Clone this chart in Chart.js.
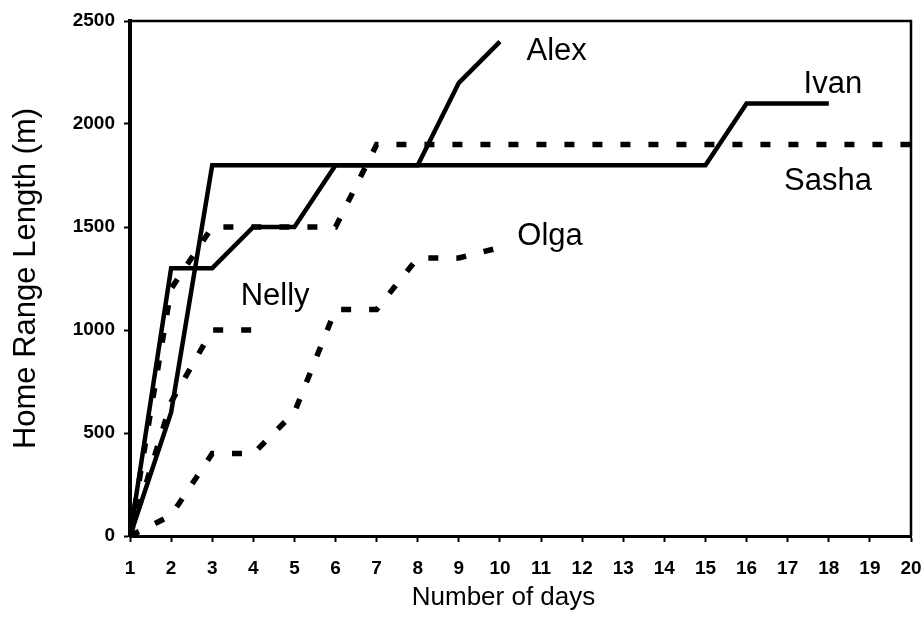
<!DOCTYPE html>
<html>
<head>
<meta charset="utf-8">
<script src="https://cdn.jsdelivr.net/npm/chart.js@4.4.1/dist/chart.umd.min.js"></script>
<style>
  html, body { margin: 0; padding: 0; background: #fff; }
  #wrap { width: 924px; height: 620px; }
</style>
</head>
<body>
<div id="wrap"><canvas id="chart" width="924" height="620"></canvas></div>
<script>
// days on the x axis
const days = [1, 2, 3, 4, 5, 6, 7, 8, 9, 10, 11, 12, 13, 14, 15, 16, 17, 18, 19, 20];
const yTicks = [0, 500, 1000, 1500, 2000, 2500];

// home range length (m) per day, null = no data
const alex  = [0, 1300, 1300, 1500, 1500, 1800, 1800, 1800, 2200, 2400, null, null, null, null, null, null, null, null, null, null];
const ivan  = [0, 600, 1800, 1800, 1800, 1800, 1800, 1800, 1800, 1800, 1800, 1800, 1800, 1800, 1800, 2100, 2100, 2100, null, null];
const sasha = [0, 1200, 1500, 1500, 1500, 1500, 1900, 1900, 1900, 1900, 1900, 1900, 1900, 1900, 1900, 1900, 1900, 1900, 1900, 1900];
const nelly = [0, 650, 1000, 1000, null, null, null, null, null, null, null, null, null, null, null, null, null, null, null, null];
const olga  = [0, 100, 400, 400, 600, 1100, 1100, 1350, 1350, 1400, null, null, null, null, null, null, null, null, null, null];

// name labels, anchored in data units
const labelNames = ['Alex', 'Ivan', 'Sasha', 'Olga', 'Nelly'];
const labelDay   = [11.38, 18.1, 17.98, 11.22, 4.53];
const labelValue = [2311, 2150, 1680, 1413, 1121];

const FONT = '"Liberation Sans", Arial, sans-serif';

function toPoints(vals) {
    const pts = [];
    vals.forEach((v, i) => {
        if (v !== null) pts.push({ x: days[i], y: v });
    });
    return pts;
}

function series(name, vals, dashed) {
    return {
        label: name,
        data: toPoints(vals),
        borderColor: '#000',
        borderWidth: dashed ? 5.5 : 4.5,
        borderDash: dashed ? [10, 18] : [],
        borderCapStyle: 'butt',
        borderJoinStyle: 'miter',
        pointRadius: 0,
        tension: 0,
        fill: false
    };
}

// box around the plot, x title and the series names
const frame = {
    id: 'frame',
    afterDatasetsDraw(chart) {
        const { ctx, chartArea: a, scales } = chart;
        ctx.save();
        ctx.strokeStyle = '#000';
        ctx.lineWidth = 2.5;
        ctx.beginPath();
        ctx.moveTo(a.left, a.top);
        ctx.lineTo(a.right, a.top);
        ctx.lineTo(a.right, a.bottom);
        ctx.stroke();
        ctx.fillStyle = '#000';
        ctx.textAlign = 'center';
        ctx.textBaseline = 'middle';
        ctx.font = '26px ' + FONT;
        ctx.fillText('Number of days', (a.left + a.right) / 2 - 17, 598);
        ctx.font = '31px ' + FONT;
        ctx.textBaseline = 'alphabetic';
        labelNames.forEach((n, i) => {
            ctx.fillText(n, scales.x.getPixelForValue(labelDay[i]), scales.y.getPixelForValue(labelValue[i]));
        });
        ctx.restore();
    }
};

const ctx = document.getElementById('chart').getContext('2d');
new Chart(ctx, {
    type: 'line',
    data: {
        datasets: [
            series('Alex', alex, false),
            series('Ivan', ivan, false),
            series('Sasha', sasha, true),
            series('Nelly', nelly, true),
            series('Olga', olga, true)
        ]
    },
    options: {
        responsive: false,
        animation: false,
        layout: { padding: { top: 21, right: 0, left: 0, bottom: 0 } },
        plugins: { legend: { display: false }, tooltip: { enabled: false } },
        scales: {
            x: {
                type: 'linear',
                min: 1,
                max: 20,
                afterFit: (s) => { s.height = 84; s.paddingRight = 13; },
                afterBuildTicks: (s) => { s.ticks = days.map(d => ({ value: d })); },
                ticks: {
                    color: '#000',
                    font: { family: FONT, size: 19, weight: 'bold' },
                    padding: 15,
                    maxRotation: 0,
                    autoSkip: false,
                    callback: (v) => String(v)
                },
                grid: { drawOnChartArea: false, drawTicks: true, tickLength: 6, tickColor: '#000', tickWidth: 2 },
                border: { display: true, color: '#000', width: 3 }
            },
            y: {
                min: 0,
                max: 2500,
                afterFit: (s) => { s.width = 130; },
                afterBuildTicks: (s) => { s.ticks = yTicks.map(v => ({ value: v })); },
                ticks: {
                    color: '#000',
                    font: { family: FONT, size: 19, weight: 'bold' },
                    padding: 9,
                    callback: (v) => String(v)
                },
                grid: { drawOnChartArea: false, drawTicks: true, tickLength: 6, tickColor: '#000', tickWidth: 2 },
                border: { display: true, color: '#000', width: 4 },
                title: {
                    display: true,
                    text: 'Home Range Length (m)',
                    color: '#000',
                    font: { family: FONT, size: 31 },
                    padding: { top: 8, bottom: 0 }
                }
            }
        }
    },
    plugins: [frame]
});
</script>
</body>
</html>
